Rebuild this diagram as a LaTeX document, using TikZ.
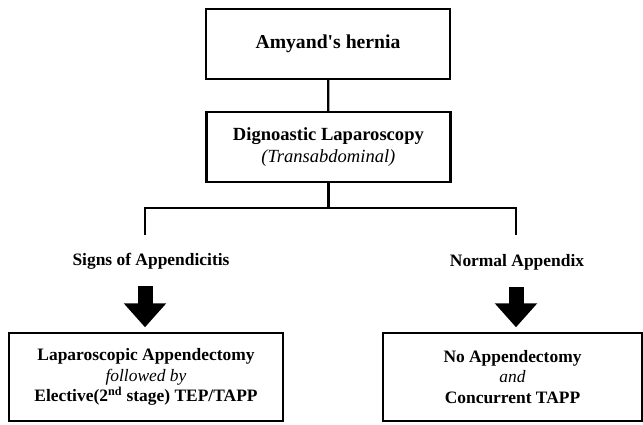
\documentclass[tikz,border=0pt]{standalone}
\usepackage{fontspec}
\setmainfont{Liberation Serif}
\usetikzlibrary{arrows.meta, positioning}

\begin{document}
\begin{tikzpicture}[
    box/.style={draw, align=center, line width=1.6pt,
                minimum width=6.1cm, minimum height=1.75cm},
    outbox/.style={draw, align=center, line width=1pt, minimum height=2.2cm,
                   font=\fontsize{12.4}{14.6}\selectfont\bfseries},
    case/.style={align=center, font=\fontsize{12.4}{14.6}\selectfont\bfseries},
    link/.style={line width=1.6pt},
    bigarrow/.style={-{Triangle[width=1.025cm, length=0.6cm]},
                     line width=0.375cm, shorten <=0.3cm, shorten >=0.125cm},
  ]
    \useasboundingbox (0,0) rectangle (16.075,-10.625);

    % Start
    \node[box, font=\fontsize{14}{16}\selectfont\bfseries] (hernia) at (8.2,-1.1) {Amyand\textquotesingle s hernia};

    % Laparoscopy
    \node[box, font=\fontsize{13.2}{16.3}\selectfont] (diag) at (8.21,-3.675) {\textbf{Dignoastic Laparoscopy}\\\textit{(Transabdominal)}};

    % Findings
    \node[case] (signs) at (3.775,-6.525) {Signs of Appendicitis};
    \node[case] (normal) at (12.925,-6.55) {Normal Appendix};

    % Management
    \node[outbox, minimum width=6.85cm] (lapbox) at (3.65,-9.425) {Laparoscopic Appendectomy\\\textit{\mdseries followed by}\\Elective(2\textsuperscript{nd} stage) TEP/TAPP};
    \node[outbox, minimum width=6.475cm] (noappbox) at (12.8125,-9.425) {No Appendectomy\\\textit{\mdseries and}\\Concurrent TAPP};

    % Branching
    \coordinate (fork) at ([yshift=-0.625cm]diag.south);
    \coordinate (lfoot) at (3.625,-5.875);
    \coordinate (rfoot) at (12.9,-5.875);

    % Connectors
    \draw[link] (hernia) -- (diag);
    \draw[link] (diag.south) -- (fork);
    \draw[link] (lfoot) |- (fork) -| (rfoot);
    \draw[bigarrow] (signs.south -| lfoot) -- (lapbox.north -| lfoot);
    \draw[bigarrow] (normal.south -| rfoot) -- (noappbox.north -| rfoot);
  \end{tikzpicture}
\end{document}
